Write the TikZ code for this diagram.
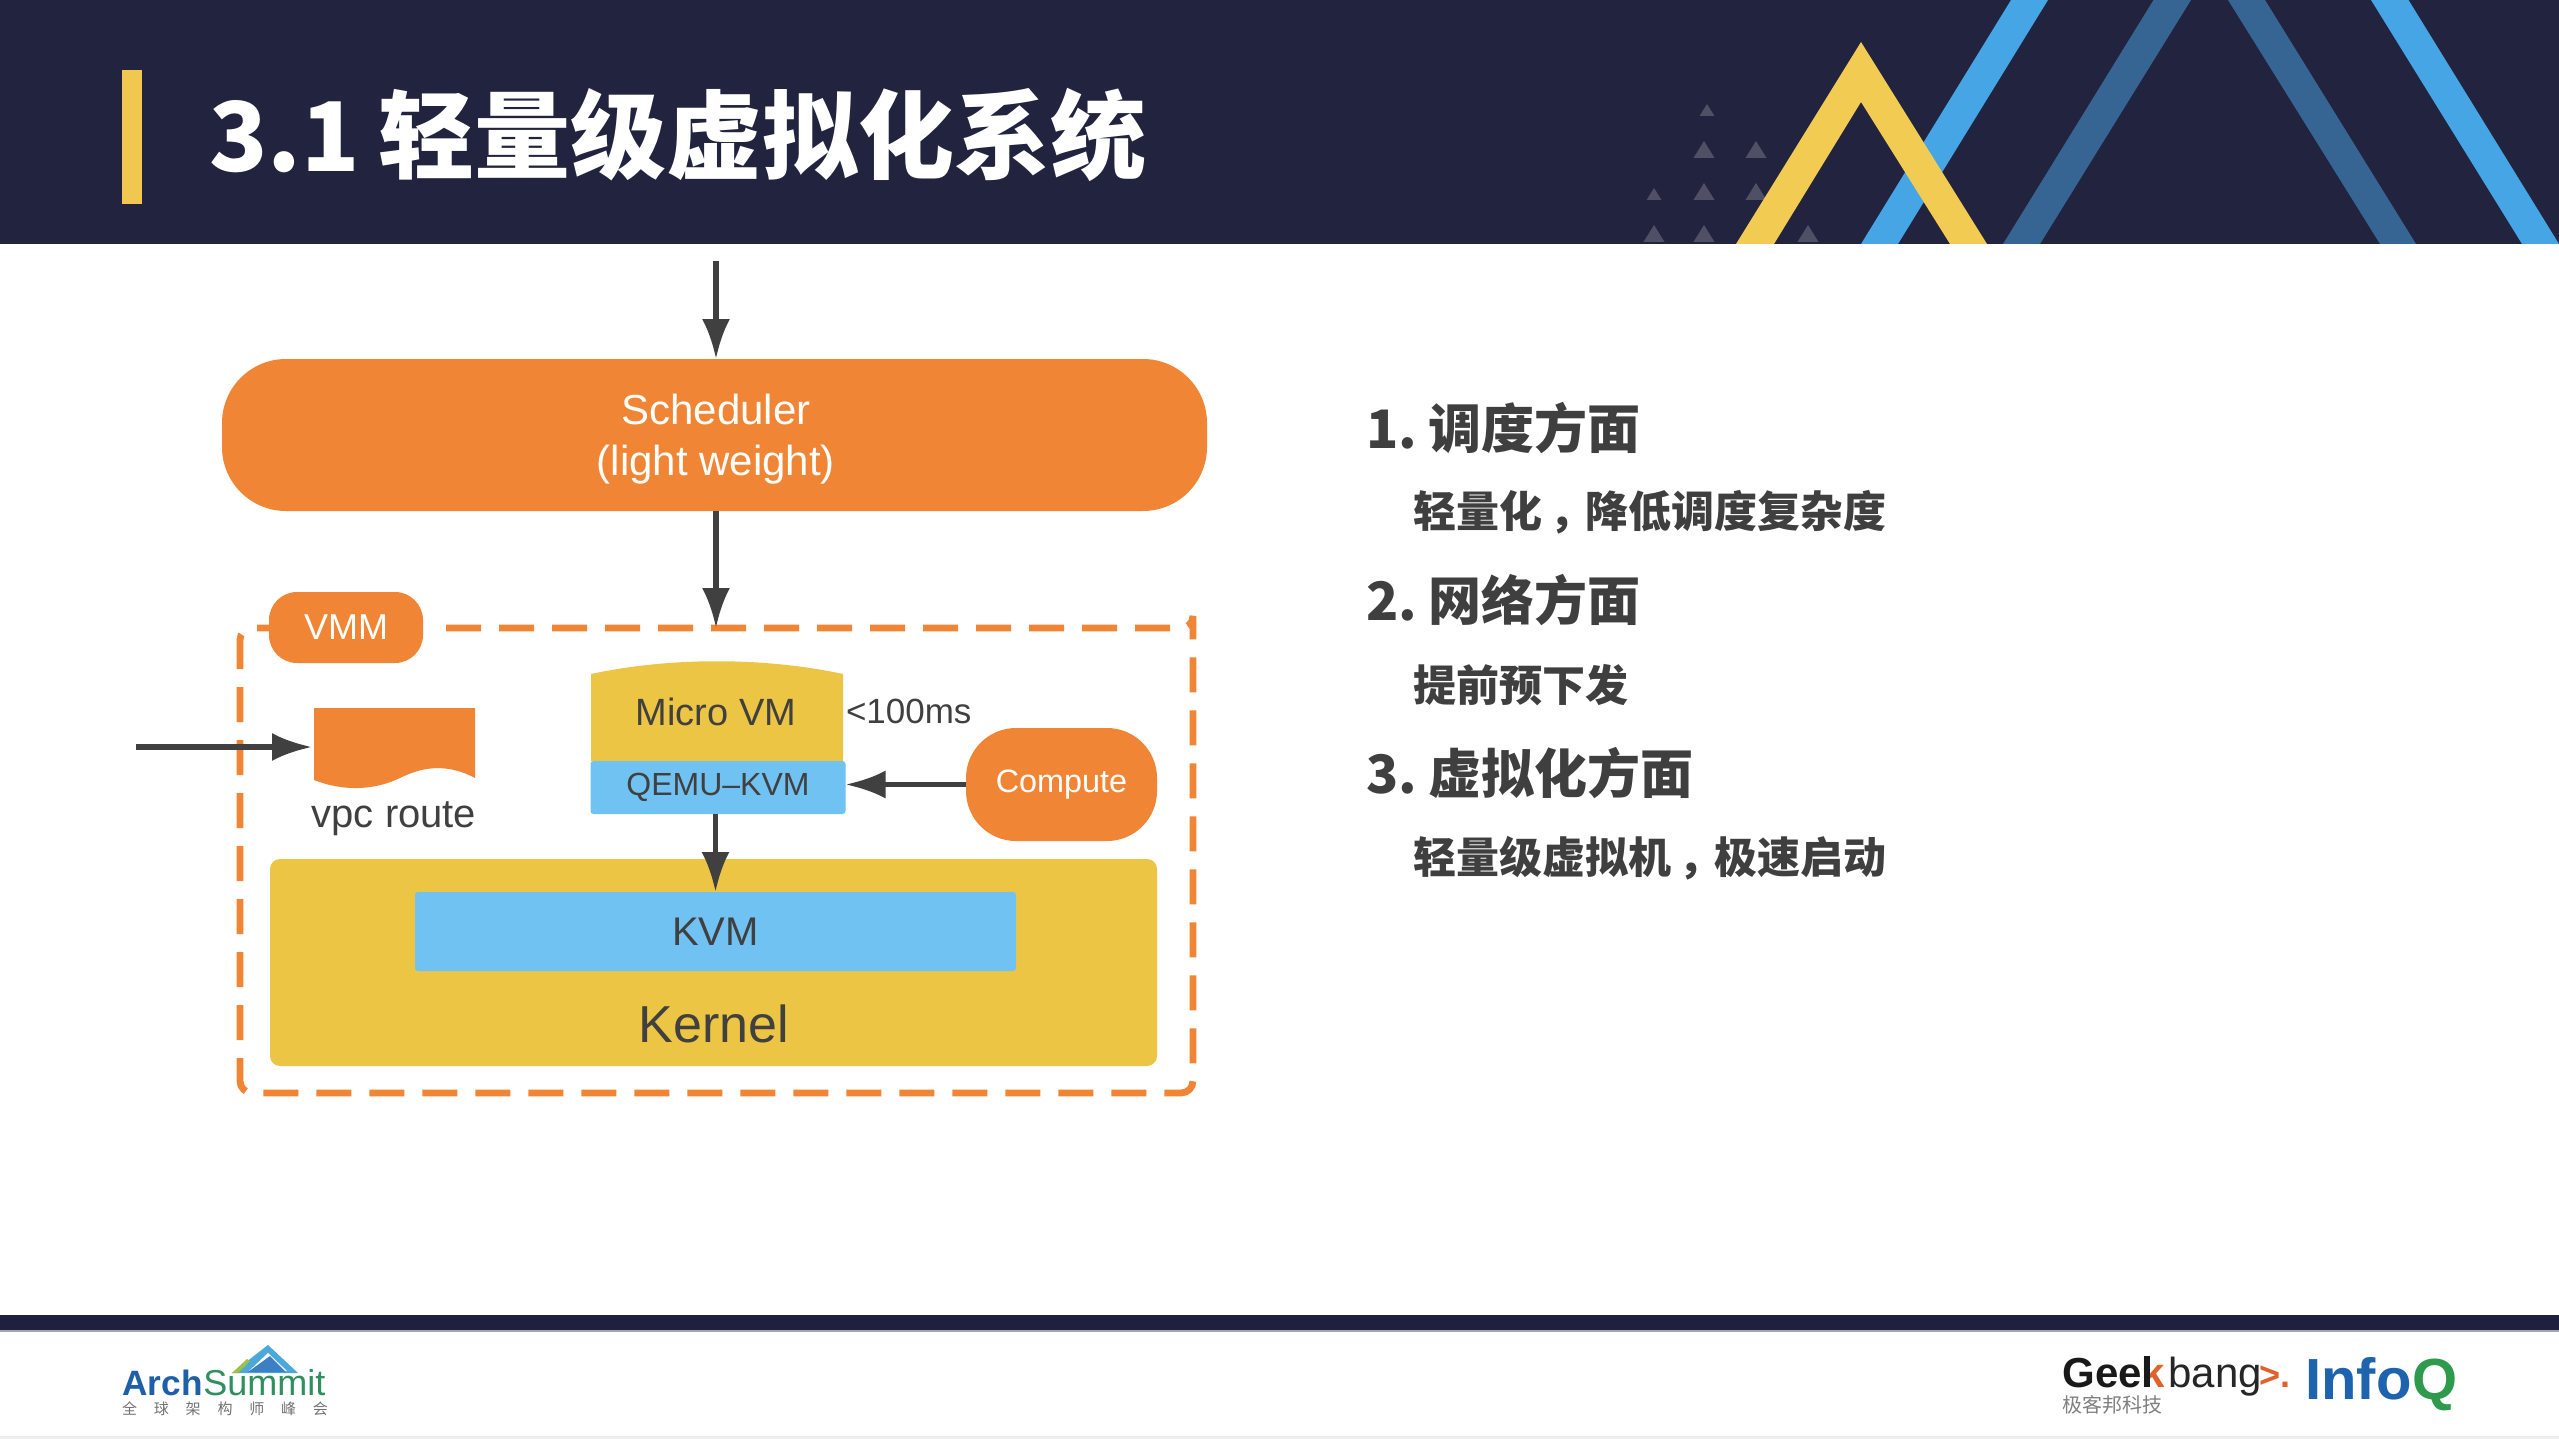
\documentclass[tikz,border=0pt]{standalone}
\usepackage{fontspec}
\usetikzlibrary{arrows.meta}
\setmainfont{Liberation Sans}
\newfontfamily\cjk{Noto Sans CJK SC}
\definecolor{band}{HTML}{22233E}
\definecolor{barc}{HTML}{1F2040}
\definecolor{goldbar}{HTML}{F0C84F}
\definecolor{tyellow}{HTML}{F2CB52}
\definecolor{lblue}{HTML}{46A5E5}
\definecolor{dblue}{HTML}{366594}
\definecolor{small}{HTML}{4F5066}
\definecolor{org}{HTML}{F08635}
\definecolor{mus}{HTML}{ECC544}
\definecolor{sky}{HTML}{70C2F2}
\definecolor{ink}{HTML}{404040}
\definecolor{rtext}{HTML}{3F3F3F}
\definecolor{archblue}{HTML}{1F5FA8}
\definecolor{archgreen}{HTML}{2F8F5F}
\definecolor{mtblue}{HTML}{3B7FC4}
\definecolor{mtlight}{HTML}{4DA8DA}
\definecolor{mtgreen}{HTML}{9CC04A}
\definecolor{geekorange}{HTML}{E0612A}
\definecolor{infoblue}{HTML}{1E63AE}
\definecolor{infogreen}{HTML}{2E9A4E}
\newcommand{\fs}[1]{\fontsize{#1pt}{#1pt}\selectfont}
\newcommand{\zh}{\hspace{3.5pt}，\hspace{-3.5pt}}
\tikzset{
  x=0.5pt,y=-0.5pt,
  solidbox/.style={inner sep=0pt,outer sep=0pt,align=center,text=ink},
  flow/.style={draw=ink,line width=2.8pt,-{Latex[length=20pt,width=14pt]}},
  stri/.style={fill=small},
  head/.style={anchor=west,inner sep=0pt,text=rtext,font=\cjk\bfseries\fs{26.5}},
  sub/.style={anchor=west,inner sep=0pt,text=rtext,font=\cjk\bfseries\fs{21.5}},
}
\begin{document}
\begin{tikzpicture}
\useasboundingbox (0,0) rectangle (2559,1439);
\fill[white] (0,0) rectangle (2559,1439);
% header band
\fill[band] (0,0) rectangle (2559,244);
\foreach \a/\b/\h in {1707/116/12,1704/158/17,1756/158/17,1654/200/12,1704/200/17,1756/200/17,1654/242/17,1704/242/17,1808/242/17}{
  \fill[stri] (\a-\h*0.62,\b) -- (\a,\b-\h) -- (\a+\h*0.62,\b) -- cycle;
}
\fill[dblue] (2153.5,0) -- (2191,0) -- (2040,244) -- (2003,244) -- cycle;
\fill[dblue] (2228,0) -- (2265,0) -- (2416,244) -- (2380,244) -- cycle;
\fill[lblue] (2011,0) -- (2048,0) -- (1898,244) -- (1861,244) -- cycle;
\fill[lblue] (2371,0) -- (2408.5,0) -- (2559,244) -- (2522,244) -- cycle;
\fill[tyellow] (1861,42) -- (1987,244) -- (1950,244) -- (1861,102) -- (1774,244) -- (1736,244) -- cycle;
\fill[goldbar] (122,70) rectangle (142,204);
\node[anchor=west,inner sep=0pt,text=white,font=\cjk\bfseries\fs{48}] (title) at (209,135) {3.1\hspace{-1.5pt} 轻量级虚拟化系统};
% footer
\fill[barc] (0,1315) rectangle (2559,1330);
\fill[gray!70] (0,1330) rectangle (2559,1332);
\fill[black!7] (0,1436) rectangle (2559,1439);
% diagram
\coordinate (topin) at (716,261);
\node[solidbox,fill=org,rounded corners=32pt,minimum width=492.5pt,minimum height=76pt] (sched) at (714.5,435) {};
\node[solidbox,text=white,font=\fs{21}] (schedtxt) at (716,439) {Scheduler\\[4.5pt](light weight)};
\draw[org,line width=3.4pt,dash pattern=on 17.5pt off 9pt] (446,628) -- (1181,628) arc[start angle=90,end angle=0,radius=12] -- (1193,1081) arc[start angle=0,end angle=90,radius=12] -- (252,1093) arc[start angle=90,end angle=180,radius=12] -- (240,640) arc[start angle=180,end angle=270,radius=12] -- (350,628);
\node[solidbox,fill=org,rounded corners=14pt,minimum width=77pt,minimum height=35.5pt,text=white,font=\fs{18}] (vmm) at (346,627.5) {VMM};
\coordinate (vmmtop) at (716,628);
% micro vm
\fill[mus] (591,761) -- (591,674) .. controls (670,657) and (764,657) .. (843,674) -- (843,761) -- cycle;
\node[solidbox,font=\fs{19}] (micro) at (716,712) {Micro VM};
\node[solidbox,fill=sky,rounded corners=1.5pt,minimum width=127.5pt,minimum height=26.5pt,font=\fs{16}] (qemu) at (718,787.5) {QEMU–KVM};
\node[solidbox,anchor=west,font=\fs{17.5}] (lat) at (846,711) {<100ms};
\node[solidbox,fill=org,rounded corners=25pt,minimum width=95.5pt,minimum height=56.5pt,text=white,font=\fs{16.2}] (compute) at (1061.5,784.5) {Compute};
% vpc
\fill[org] (314,708) -- (475,708) -- (475,778) .. controls (445,762) and (420,768) .. (400,778) .. controls (375,790) and (345,792) .. (314,780) -- cycle;
\coordinate (vpcin) at (312,747);
\coordinate (vpcfrom) at (136,747);
\node[solidbox,font=\fs{20}] (vpc) at (394,819) {vpc route};
% kernel
\node[solidbox,fill=mus,rounded corners=5pt,minimum width=443.5pt,minimum height=103.5pt] (kernel) at (713.5,962.5) {};
\node[solidbox,fill=sky,rounded corners=1.5pt,minimum width=300.5pt,minimum height=39.5pt,font=\fs{20}] (kvm) at (715.5,931.5) {KVM};
\node[solidbox,font=\fs{26}] (kerneltxt) at (714,1024) {Kernel};
% connectors
\draw[flow] (topin) -- (sched.north -| topin);
\draw[flow] (sched.south -| vmmtop) -- (vmmtop);
\draw[flow] (vpcfrom) -- (vpcin);
\draw[flow] (compute.west) -- (qemu.east |- compute.west);
\draw[flow] (qemu.south -| kvm.north) -- (kvm.north);
% right text
\node[head] (h1) at (1366,428) {1.\hspace{-2.5pt} 调度方面};
\node[sub] (s1) at (1413,512) {轻量化\zh 降低调度复杂度};
\node[head] (h2) at (1366,600) {2.\hspace{-2.5pt} 网络方面};
\node[sub] (s2) at (1413,685) {提前预下发};
\node[head] (h3) at (1366,773) {3.\hspace{-2.5pt} 虚拟化方面};
\node[sub] (s3) at (1413,858) {轻量级虚拟机\zh 极速启动};
% ArchSummit logo
\fill[mtlight] (268,1345) -- (298,1373) -- (232,1373) -- cycle;
\fill[white] (268,1353) -- (287,1371) -- (249,1371) -- cycle;
\fill[mtblue] (270,1356) -- (286,1372) -- (248,1372) -- cycle;
\fill[mtgreen] (232,1373) -- (247,1359) -- (250,1361) -- (238,1373) -- cycle;
\node[anchor=base west,inner sep=0pt,font=\bfseries\fs{17.6},text=archblue] (arch) at (122,1395) {Arch};
\node[anchor=base west,inner sep=0pt,font=\fs{18},text=archgreen] (summit) at (arch.base east) {Summit};
\node[anchor=center,inner sep=0pt,font=\cjk\fs{7.5},text=black!55] (qq) at (225,1409) {全\hspace{8.4pt}球\hspace{8.4pt}架\hspace{8.4pt}构\hspace{8.4pt}师\hspace{8.4pt}峰\hspace{8.4pt}会};
% Geekbang logo
\node[anchor=base west,inner sep=0pt,font=\bfseries\fs{21},text=black!90] (geek) at (2062,1387) {Gee\textcolor{geekorange}{k}};
\fill[black!90] (2143.5,1356) rectangle (2150,1387);
\node[anchor=base west,inner sep=0pt,font=\fs{21},text=black!85] (bang) at (2168,1387) {bang};
\node[anchor=base west,inner sep=0pt,font=\bfseries\fs{18},text=geekorange] (chev) at (2259,1387) {>.};
\node[anchor=center,inner sep=0pt,font=\cjk\fs{10},text=black!50] (jk) at (2112,1405) {极客邦科技};
\node[anchor=base west,inner sep=0pt,font=\bfseries\fs{29},text=infoblue] (info) at (2305,1399) {Info};
\node[anchor=base west,inner sep=0pt,font=\bfseries\fs{29},text=infogreen] (q) at (info.base east) {Q};
\end{tikzpicture}
\end{document}
